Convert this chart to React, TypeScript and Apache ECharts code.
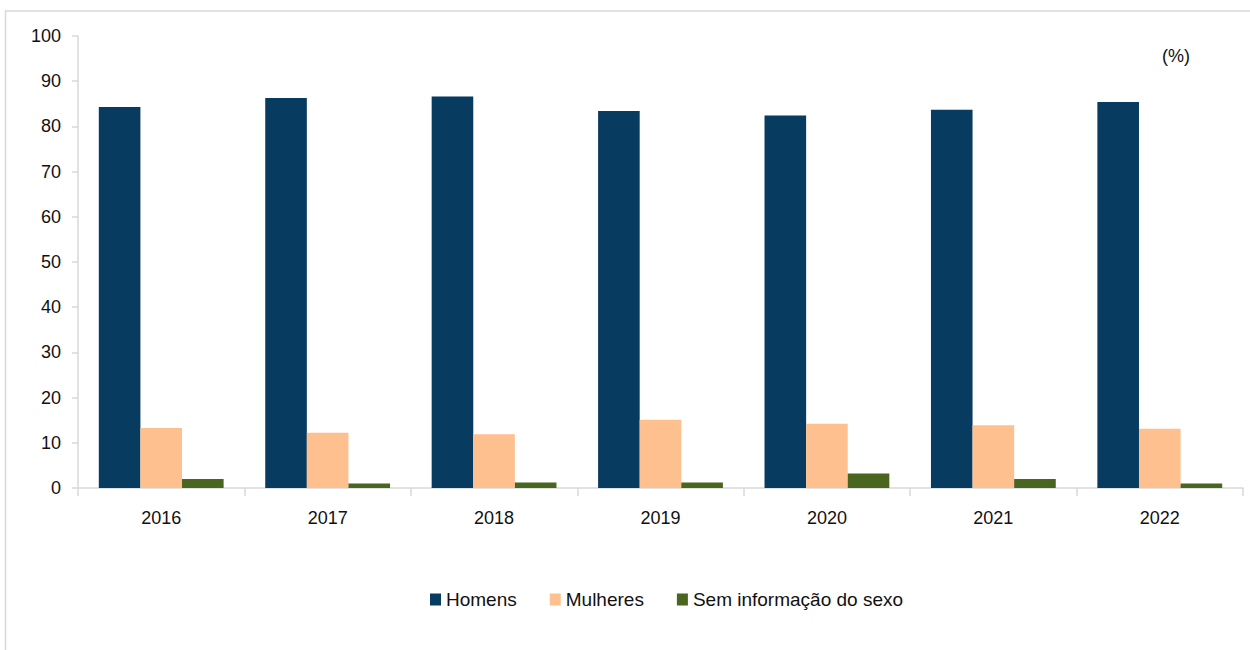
import React, { useEffect, useRef } from "react";
import * as echarts from "echarts";

const years = ["2016", "2017", "2018", "2019", "2020", "2021", "2022"];
const homens = [84.3, 86.3, 86.6, 83.4, 82.4, 83.7, 85.4];
const mulheres = [13.3, 12.2, 11.9, 15.1, 14.2, 13.9, 13.1];
const semInfo = [2.0, 1.0, 1.2, 1.2, 3.2, 2.0, 1.0];
const seriesNames = ["Homens", "Mulheres", "Sem informação do sexo"];
const colors = ["#073B60", "#FFC08F", "#4A6520"];

const FONT = "'Liberation Sans', Arial, sans-serif";

export default function App() {
  const ref = useRef<HTMLDivElement>(null);
  useEffect(() => {
    document.body.style.margin = "0";
    const chart = echarts.init(ref.current!, null, { renderer: "svg" });
    const data = [homens, mulheres, semInfo];
    chart.setOption({
      animation: false,
      backgroundColor: "#ffffff",
      textStyle: { fontFamily: FONT },
      grid: { left: 78, right: 7, top: 36, bottom: 162, containLabel: false },
      legend: {
        top: 585,
        left: 425,
        itemWidth: 11,
        itemHeight: 12,
        itemGap: 33,
        icon: "rect",
        textStyle: { fontFamily: FONT, fontSize: 19, color: "#111" },
        data: seriesNames,
      },
      xAxis: {
        type: "category",
        data: years,
        axisLine: { lineStyle: { color: "#d9d9d9", width: 1.5 } },
        axisTick: { show: true, length: 8, lineStyle: { color: "#d9d9d9", width: 1.5 } },
        axisLabel: { fontFamily: FONT, fontSize: 18, color: "#111", margin: 21 },
      },
      yAxis: {
        type: "value",
        min: 0,
        max: 100,
        interval: 10,
        axisLine: { show: true, lineStyle: { color: "#d9d9d9", width: 1.5 } },
        axisTick: { show: true, length: 6, lineStyle: { color: "#d9d9d9", width: 1.5 } },
        splitLine: { show: false },
        axisLabel: { fontFamily: FONT, fontSize: 18, color: "#111", margin: 17 },
      },
      graphic: [
        {
          type: "rect",
          shape: { x: 5.5, y: 11, width: 1300, height: 700 },
          style: { fill: "none", stroke: "#d9d9d9", lineWidth: 1.5 },
          silent: true,
        },
        {
          type: "text",
          x: 1176,
          y: 56,
          style: {
            text: "(%)",
            fontFamily: FONT,
            fontSize: 18,
            fill: "#111",
            textAlign: "center",
            textVerticalAlign: "middle",
          },
        },
      ],
      series: seriesNames.map((name, i) => ({
        name,
        type: "bar",
        data: data[i],
        barGap: "0%",
        barCategoryGap: "25%",
        itemStyle: { color: colors[i] },
      })),
    });
    return () => chart.dispose();
  }, []);
  return (
    <div
      ref={ref}
      style={{ position: "absolute", left: 0, top: 0, width: 1250, height: 650 }}
    />
  );
}
